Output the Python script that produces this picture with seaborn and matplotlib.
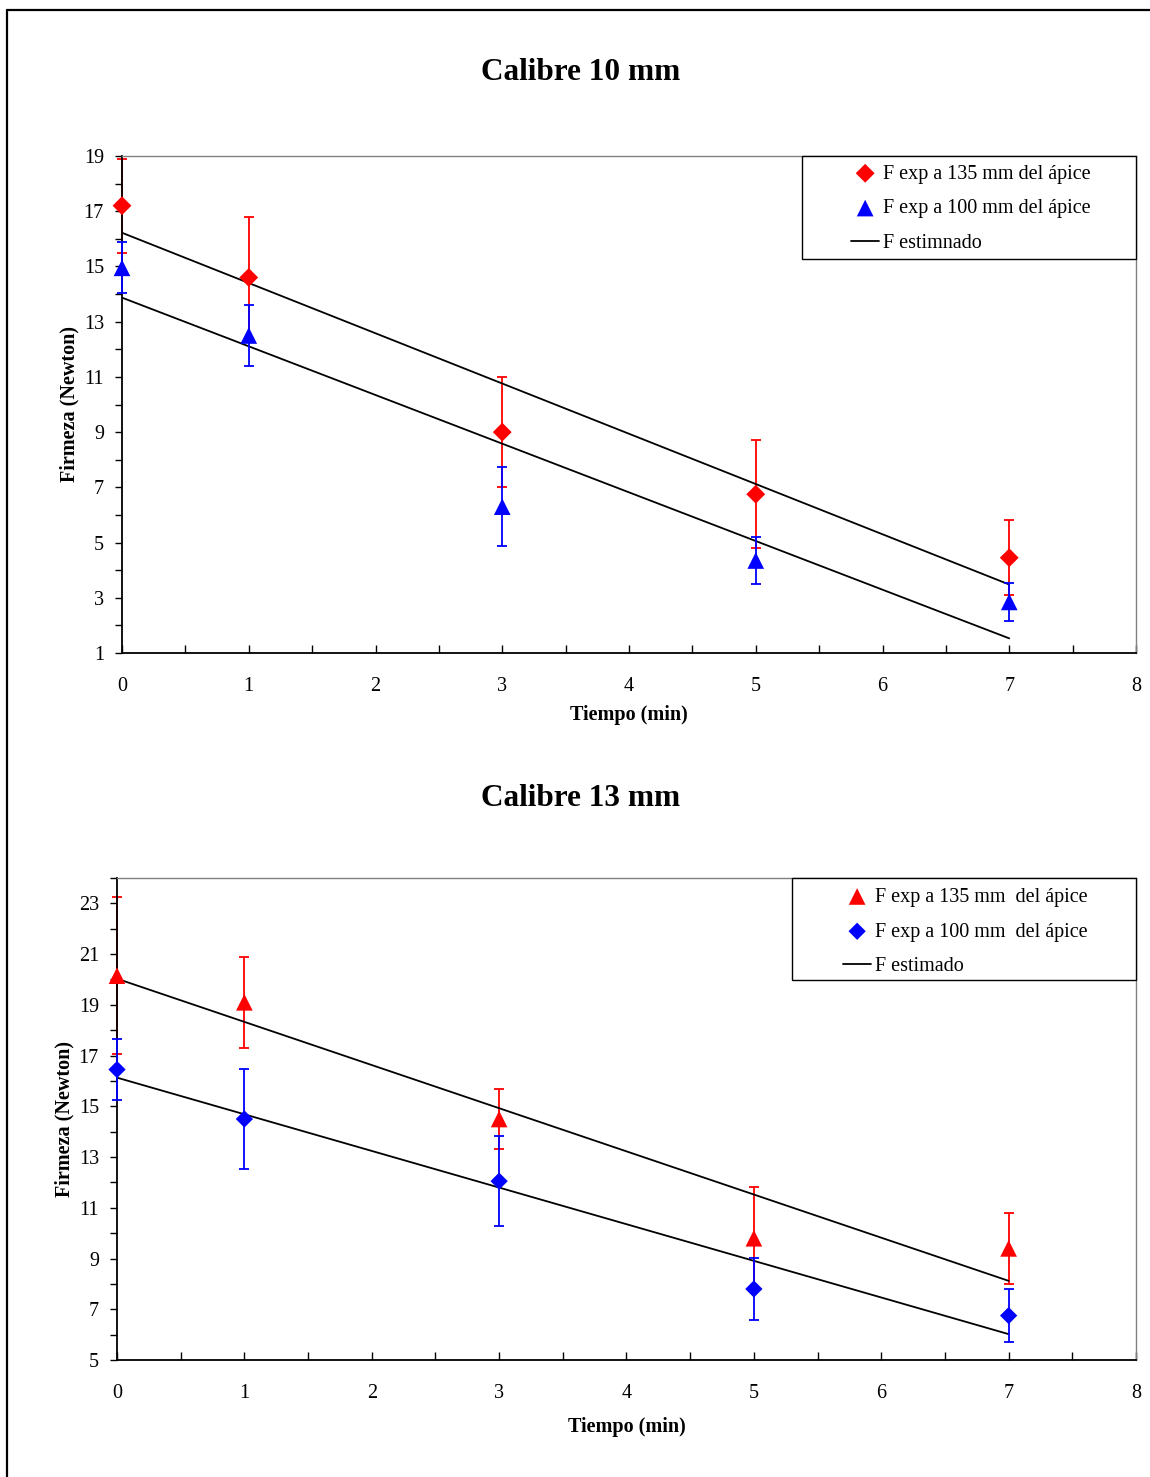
import numpy as np
import pandas as pd
import matplotlib
matplotlib.use('Agg')
import matplotlib.pyplot as plt
import seaborn as sns
from matplotlib.lines import Line2D
from matplotlib.patches import Rectangle
from matplotlib.ticker import MultipleLocator, FixedLocator

# ---------------- data ----------------
tiempo = [0, 1, 3, 5, 7]
fit_x = [0, 7]

# Calibre 10 mm
c10_135 = [17.2, 14.6, 9.0, 6.75, 4.45]
c10_135_err = [1.7, 2.2, 2.0, 1.95, 1.36]
c10_100 = [14.95, 12.5, 6.3, 4.35, 2.85]
c10_100_err = [0.92, 1.12, 1.42, 0.86, 0.7]
c10_fit_135 = [16.22, 3.48]
c10_fit_100 = [13.87, 1.53]
c10_labels = ["F exp a 135 mm del ápice", "F exp a 100 mm del ápice", "F estimnado"]

# Calibre 13 mm
c13_135 = [20.15, 19.1, 14.5, 9.8, 9.4]
c13_135_err = [3.1, 1.8, 1.17, 2.0, 1.4]
c13_100 = [16.45, 14.5, 12.05, 7.8, 6.75]
c13_100_err = [1.22, 1.97, 1.78, 1.23, 1.06]
c13_fit_135 = [20.03, 8.12]
c13_fit_100 = [16.13, 6.02]
c13_labels = ["F exp a 135 mm  del ápice", "F exp a 100 mm  del ápice", "F estimado"]

titles = ["Calibre 10 mm", "Calibre 13 mm"]
xlabel = "Tiempo (min)"
ylabel = "Firmeza (Newton)"

RED = '#FF0000'
BLUE = '#0000FF'

sns.set_style('ticks')
plt.rcParams['font.family'] = ['Liberation Serif', 'DejaVu Serif']
plt.rcParams['text.color'] = 'black'
plt.rcParams['axes.labelcolor'] = 'black'
plt.rcParams['xtick.color'] = 'black'
plt.rcParams['ytick.color'] = 'black'

W, H = 1150, 1477
fig = plt.figure(figsize=(W / 100, H / 100), dpi=100)

ax1 = fig.add_axes([122 / W, 1 - 653 / H, 1014 / W, 497 / H])
ax2 = fig.add_axes([117 / W, 1 - 1360 / H, 1019 / W, 482 / H])


def unclip(container):
    for child in container.get_children():
        try:
            child.set_clip_on(False)
        except Exception:
            pass


def panel(ax, y135, e135, m135, s135, y100, e100, m100, s100, f135, f100,
          labels, ylim, yticks, leg_anchor, box_xy, xlab_y):
    eb = ax.errorbar(tiempo, y135, yerr=e135, fmt='none', ecolor=RED,
                     elinewidth=1.3, capsize=3.6, capthick=1.3, zorder=2)
    unclip(eb)
    sns.scatterplot(x=tiempo, y=y135, marker=m135, s=s135 ** 2, color=RED,
                    edgecolor='none', linewidth=0, ax=ax, zorder=3,
                    label=labels[0], clip_on=False)
    eb = ax.errorbar(tiempo, y100, yerr=e100, fmt='none', ecolor=BLUE,
                     elinewidth=1.3, capsize=3.6, capthick=1.3, zorder=3.2)
    unclip(eb)
    sns.scatterplot(x=tiempo, y=y100, marker=m100, s=s100 ** 2, color=BLUE,
                    edgecolor='none', linewidth=0, ax=ax, zorder=3.4,
                    label=labels[1], clip_on=False)
    sns.lineplot(x=fit_x, y=f135, color='black', linewidth=1.3, ax=ax,
                 zorder=2.5, label=labels[2])
    sns.lineplot(x=fit_x, y=f100, color='black', linewidth=1.3, ax=ax,
                 zorder=2.5)

    ax.set_xlim(0, 8)
    ax.set_ylim(*ylim)
    ax.xaxis.set_major_locator(MultipleLocator(1))
    ax.xaxis.set_minor_locator(MultipleLocator(0.5))
    ax.yaxis.set_major_locator(FixedLocator(yticks))
    ax.yaxis.set_minor_locator(MultipleLocator(1))
    ax.tick_params(axis='x', which='both', direction='in', length=6, width=1,
                   labelsize=14.5, pad=17, color='black')
    ax.tick_params(axis='y', which='both', direction='out', length=5, width=1,
                   labelsize=14.5, pad=8, color='black')
    ax.tick_params(axis='x', which='minor', labelbottom=False)

    for s in ['left', 'bottom']:
        ax.spines[s].set_color('black')
        ax.spines[s].set_linewidth(1.3)
    for s in ['top', 'right']:
        ax.spines[s].set_visible(True)
        ax.spines[s].set_color('#808080')
        ax.spines[s].set_linewidth(1.0)

    ax.set_xlabel(xlabel, fontsize=14.5, fontweight='bold')
    ax.set_ylabel(ylabel, fontsize=14.5, fontweight='bold')
    ax.xaxis.set_label_coords(0.5, xlab_y)
    ax.yaxis.set_label_coords(-0.042, 0.5)

    # legend box
    bx, by = box_xy
    ax.add_patch(Rectangle((bx, by), 1 - bx, 1 - by, transform=ax.transAxes,
                           facecolor='white', edgecolor='black', linewidth=1.0,
                           clip_on=False, zorder=6))
    handles, labs = ax.get_legend_handles_labels()
    leg = ax.legend(handles, labs, loc='upper left', bbox_to_anchor=leg_anchor,
                    frameon=False, borderaxespad=0, borderpad=0,
                    handlelength=1.4, handletextpad=0.2, labelspacing=0.78,
                    fontsize=14.5)
    leg.set_zorder(7)


panel(ax1, c10_135, c10_135_err, 'D', 9.6, c10_100, c10_100_err, '^', 12.0,
      c10_fit_135, c10_fit_100, c10_labels, (1, 19), np.arange(1, 20, 2),
      (0.719, 0.983), (0.6706, 0.7928), -0.104)
panel(ax2, c13_135, c13_135_err, '^', 12.0, c13_100, c13_100_err, 'D', 8.8,
      c13_fit_135, c13_fit_100, c13_labels, (5, 24), np.arange(5, 24, 2),
      (0.7125, 0.980), (0.6624, 0.788), -0.118)

fig.text(581 / W, 1 - 73 / H, titles[0], ha='center', va='center',
         fontsize=22.5, fontweight='bold')
fig.text(581 / W, 1 - 798 / H, titles[1], ha='center', va='center',
         fontsize=22.5, fontweight='bold')

# outer frame (top and left edges)
fig.add_artist(Line2D([7 / W, 1.0], [1 - 10 / H, 1 - 10 / H], color='black',
                      linewidth=1.6, transform=fig.transFigure))
fig.add_artist(Line2D([7 / W, 7 / W], [0, 1 - 10 / H], color='black',
                      linewidth=1.6, transform=fig.transFigure))

fig.savefig('out.png', dpi=100)
